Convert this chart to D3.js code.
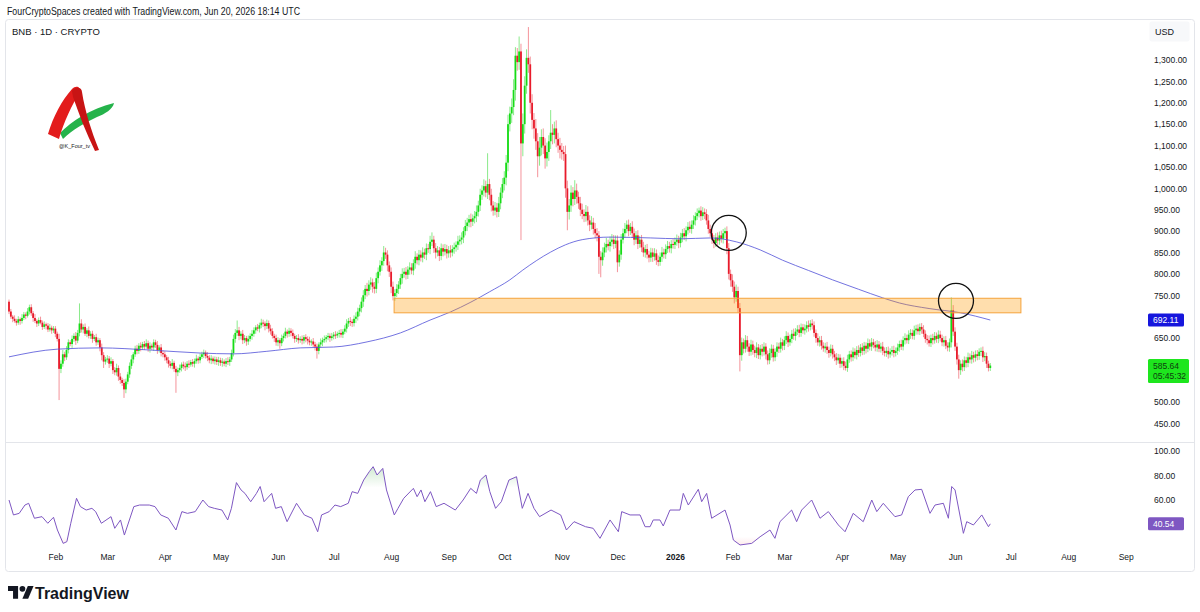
<!DOCTYPE html>
<html>
<head>
<meta charset="utf-8">
<script src="https://cdn.jsdelivr.net/npm/d3@7"></script>
<style>
html, body { margin: 0; padding: 0; background: #ffffff; }
svg { display: block; font-family: "Liberation Sans", Arial, sans-serif; }
</style>
</head>
<body>
<script>
(function(){

//first daily candle and its open
var startDate = new Date(Date.UTC(2025, 0, 7));
var firstOpen = 735;

//daily closes, one line per month (Jan 2025 .. Jun 2026)
var closes = [
  712,700,695,690,686,694,690,697,705,702,712,722,708,697,690,684,692,686,676,682,679,670,674,668,672,
  660,648,578,590,612,605,622,640,636,648,655,644,662,684,670,676,660,668,655,660,648,652,640,645,628,610,595,600,
  602,590,596,575,570,580,560,552,545,530,548,565,585,600,612,625,620,632,628,636,630,638,625,632,628,640,634,622,628,615,612,
  605,598,590,585,592,578,570,575,580,588,584,582,590,588,594,590,596,602,598,606,612,616,608,604,598,602,596,600,594,598,
  592,595,590,596,594,600,615,648,662,668,655,660,645,650,642,648,655,660,668,675,672,680,686,684,678,685,672,666,655,650,640,
  645,638,650,655,665,660,667,662,655,648,650,645,648,644,652,648,644,640,642,635,630,620,635,640,645,648,652,655,650,654,
  658,656,660,662,658,665,672,684,690,688,685,695,700,712,720,735,750,765,760,775,780,770,765,790,805,820,830,850,845,820,805,
  770,748,755,765,775,790,800,805,798,810,815,808,825,840,832,845,838,850,845,860,858,875,880,860,850,855,842,860,852,858,848,
  855,850,858,862,868,876,880,885,900,912,920,928,922,930,935,945,960,985,995,1005,990,1010,985,960,948,955,945,965,990,1010,
  1025,1060,1150,1175,1190,1230,1310,1295,1320,1105,1150,1240,1305,1290,1200,1160,1140,1110,1075,1095,1120,1100,1070,1085,1110,1130,1125,1140,1115,1100,1090,
  1085,1080,1000,945,960,990,975,995,980,965,950,940,935,945,925,915,920,905,895,890,840,832,850,862,870,865,875,880,870,878,
  827,845,880,895,905,915,900,910,895,880,890,870,880,862,850,858,845,838,850,840,848,832,828,840,850,846,858,865,860,870,868,
  875,880,872,885,895,888,902,910,905,915,925,935,942,948,935,944,940,925,905,895,880,872,885,878,890,882,895,900,860,800,785,
  770,745,760,720,610,640,625,645,630,618,635,622,615,628,610,625,618,630,612,598,615,625,605,618,630,625,640,632,
  645,655,640,648,660,655,665,670,662,675,668,672,680,676,684,680,662,650,640,645,632,626,630,622,615,625,612,605,598,604,590,
  596,585,580,600,612,605,618,610,622,615,628,620,632,625,638,630,640,634,628,635,625,630,620,615,620,612,618,622,615,620,
  628,636,630,645,650,645,658,662,655,668,672,666,676,670,660,648,645,638,650,645,655,648,658,650,640,645,632,628,640,715,665,
  630,600,575,590,582,598,592,605,600,610,604,612,608,618,620,605,608,590,580,585.64
];

//upper wick above the body, price units
var upWick = [
  5,6,4,8,5,7,4,9,6,5,8,6,7,5,9,4,6,8,5,7,4,6,9,5,6,
  6,5,12,8,10,6,9,7,5,8,6,9,7,47,10,6,8,5,9,6,7,5,8,6,5,9,7,6,
  8,6,9,5,7,10,6,8,5,9,7,6,8,10,5,7,9,6,8,5,7,9,6,8,5,7,6,9,5,8,6,
  7,5,8,6,9,5,7,6,8,5,7,9,6,8,5,7,6,9,5,8,6,7,5,9,6,8,5,7,6,8,
  6,8,5,7,9,6,8,10,9,23,8,6,9,7,5,8,6,9,7,5,8,6,9,7,5,8,6,9,7,5,8,
  7,5,8,6,9,5,7,6,8,5,7,9,6,8,5,7,6,9,5,8,6,7,5,9,6,8,5,7,6,8,
  6,8,5,7,9,6,8,10,7,9,6,8,10,9,8,10,12,9,14,10,12,9,11,13,10,12,9,15,11,10,9,
  10,12,9,11,8,10,13,9,11,8,12,10,9,13,8,11,10,12,9,11,10,14,17,9,12,10,8,11,9,12,10,
  10,12,9,11,8,13,10,12,9,14,11,10,13,9,12,15,11,14,12,16,13,72,12,14,10,13,11,15,12,14,
  15,18,22,16,20,25,20,18,35,18,25,22,20,72,18,20,16,22,19,25,18,20,17,22,14,53,20,16,19,15,18,
  16,14,20,18,15,17,13,24,16,12,15,14,11,16,13,12,15,11,14,12,10,13,12,11,14,10,12,13,11,12,
  12,10,13,11,14,10,12,9,13,11,10,12,9,11,13,10,12,9,11,10,12,9,11,10,13,9,11,12,10,9,11,
  10,12,9,11,10,12,9,11,13,10,12,9,11,7,10,12,9,11,13,10,9,11,10,12,9,11,10,8,11,12,10,
  14,12,15,10,12,11,9,12,10,8,11,9,10,12,8,9,11,10,8,9,11,10,9,8,10,9,11,8,
  9,11,8,10,9,12,8,10,11,9,8,10,9,11,8,10,9,8,11,9,10,8,9,11,8,10,9,8,10,9,8,
  8,9,10,11,8,9,10,8,9,11,8,10,9,8,11,9,10,8,9,10,8,9,11,8,9,10,8,9,10,8,
  9,8,10,9,11,8,10,9,8,11,9,10,8,9,10,8,9,11,8,10,9,8,10,9,8,9,10,8,9,30,12,
  10,9,11,8,10,9,8,11,9,10,8,9,10,8,8,10,9,8,7,6
];

//lower wick below the body, price units
var dnWick = [
  6,5,8,4,7,5,9,6,5,8,4,7,6,9,5,8,6,4,7,5,9,6,5,8,6,
  8,6,73,10,7,9,6,8,5,9,7,10,6,8,7,9,5,8,6,7,9,5,8,6,9,12,15,7,
  8,10,6,9,7,8,10,9,7,20,9,6,8,7,9,6,8,7,9,6,8,5,7,9,6,8,7,9,6,8,7,
  8,7,9,6,8,7,48,9,6,8,7,9,6,8,5,7,9,6,8,7,5,9,6,8,7,9,6,8,7,9,
  7,9,6,8,7,9,6,8,9,7,10,8,9,7,10,8,6,9,7,8,6,9,7,8,10,7,9,8,6,9,8,
  9,13,7,8,6,9,7,8,6,9,7,8,6,9,7,8,9,7,8,6,9,18,8,7,9,6,8,7,9,6,
  7,8,6,9,7,8,6,9,8,10,9,8,10,9,11,10,12,9,13,10,12,14,11,10,12,9,13,11,10,14,12,
  15,10,11,9,12,10,13,9,11,10,12,9,11,13,10,12,9,11,10,13,9,12,10,11,14,9,12,10,11,9,12,
  10,12,9,11,10,12,9,11,13,10,12,11,13,10,12,14,11,13,12,14,11,15,13,14,12,11,13,12,14,13,
  15,18,20,17,22,19,25,20,18,226,30,22,19,20,25,22,24,20,49,22,18,20,24,19,21,18,22,20,19,17,20,
  18,16,22,43,18,15,17,14,16,13,15,12,14,13,12,15,11,13,12,14,40,40,13,11,12,10,13,11,12,10,
  23,10,12,9,11,10,12,9,11,13,10,12,9,11,10,12,9,11,10,12,9,11,10,9,12,10,11,9,10,12,9,
  10,9,12,10,11,9,12,10,9,11,10,12,9,10,11,9,12,10,11,9,10,12,9,11,10,9,11,12,14,13,15,
  12,14,10,11,38,13,11,9,12,10,9,11,10,12,9,10,11,9,12,10,9,11,10,9,12,10,9,11,
  10,9,11,8,10,9,11,8,10,9,8,10,9,11,8,10,9,11,8,10,9,8,10,9,11,8,10,9,11,8,10,
  9,10,6,9,8,10,9,8,10,9,8,10,9,11,8,9,10,8,9,10,8,9,10,8,9,10,8,9,10,8,
  9,10,8,9,10,8,9,10,8,9,10,8,9,10,8,9,10,8,9,10,8,9,10,8,9,10,8,9,10,12,10,
  10,12,20,11,10,9,11,10,9,10,11,9,10,9,10,11,9,10,8,7
];

//moving average (day index from startDate, value)
var maDay = [0,26,49,76,103,121,139,157,175,193,211,227,238,249,259,270,277,292,300,309,324,346,362,378,392,405,417,431,444,458,471,480,496,513,529];
var maVal = [606,624,627,622,615,613,619,627,629,641,662,692,711,734,758,786,809,851,868,880,886,884,882,884,875,856,832,808,786,764,744,732,719,709,692.11];

//RSI (day index, value)
var rsiDay = [0,2.4,5.5,8.6,10.6,13.7,17.8,20.9,24,26.1,29.2,31.2,33.3,36.4,38.5,41.6,44.7,46.7,49.8,55,57,60.1,62.2,67.3,70.4,75.6,78.7,81.8,85.9,90,93.2,96.2,100.4,104.5,107.6,110.7,114.8,117.9,119.9,122.6,125.1,127.2,130.3,133.4,135.4,137.5,141.6,143.7,146.8,149.9,155,159.2,163.3,166.4,168.5,172.6,175.7,178.8,182.9,185,188,191.2,194.2,196.3,198.4,201.5,203.5,207.7,209.7,212.8,218,220,222.1,224.2,227.2,230.3,234.5,240.6,244.8,248.9,252,254.1,257.1,259.2,262.3,265.4,269.5,273.6,276.7,279.8,283,286,292.2,297.4,300.5,304.6,310.8,314.9,318.6,
  324,328.5,330.3,334.8,340.2,342.9,345.6,347.3,350.9,352.7,356.3,361.7,363.5,366.2,371.6,373.4,376.1,378.8,386,388.7,390.5,394.1,400.4,404.9,410.2,412.9,415.6,421.9,424.6,427.3,432.7,437.2,441.7,447.1,450.7,455.1,460.5,465.1,467.8,471.3,477.6,481.2,484.8,488.4,492,496.5,499.2,503.7,506.4,508.2,510,514.5,516.3,519.9,524.4,528,529];
var rsiVal = [60,47.8,49.1,55.9,57.3,45.1,46.4,41,45.9,35.5,24.6,26,41,61.4,54.6,51.8,53.2,50.5,41,46.4,36.9,43.7,31.4,54.6,55.9,55.9,54.6,47.8,45.1,35.5,50.5,49.1,50.5,60,54.6,53.2,51.8,43.7,53.2,74.2,68.2,65.4,58.6,65.4,71,58.6,65.4,53.2,54.6,42.3,57.3,47.8,45.1,34.1,47.8,50.5,55.9,54.6,57.3,66.8,65.4,76.3,83.1,87.2,80.4,85.8,68.2,47.8,53.2,61.4,69.5,62.7,68.2,58.6,66.8,54.6,57.3,51.8,60,69.5,65.4,76.3,80.4,66.8,53.2,58.6,76.3,79,53.2,65.4,53.2,46.4,51.8,47.8,35.5,42.3,38.2,36.9,28.7,
  43.7,34.1,50.5,47.8,47.8,38.2,38.2,43.7,43.7,38.8,51.8,51.8,65.4,55.9,68.7,58.6,65.4,45.1,51.8,39.6,27.3,23.3,24.6,30,35.5,28.7,42.3,51.8,42.3,51.8,60,45.1,50.5,39.6,34.1,49.1,42.3,60,50.5,57.3,46.4,47.8,62.7,68.2,68.7,49.1,55.9,57.3,45.1,71,68.2,32.8,42.3,39.6,47.8,38.2,40.54];

//axis ticks
var priceTicks = [1300,1250,1200,1150,1100,1050,1000,950,900,850,800,750,700,650,600,550,500,450];
var rsiTicks = [100,80,60,40];

//drawings on the chart: support zone (day index range, price range) and two circles
var zoneDays = [207.6, 545.5];
var zonePrices = [709, 743];
var circleDays = [388, 510.5];
var circlePrices = [896, 737];

//last values shown on the price scale
var lastPrice = 585.64, lastMA = 692.11, lastRSI = 40.54, countdown = "05:45:32";

drawChart();

function drawChart(){

    var width = 1200,
        height = 612;

    var svg = d3.select("body")
        .append("svg")
        .attr("width", width)
        .attr("height", height);

    //time scale shared by both panes
    var endDate = d3.utcDay.offset(startDate, closes.length - 1);
    var x = d3.scaleUtc()
        .domain([startDate, endDate])
        .range([9, 990.3]);
    function xDay(d){ return x(new Date(startDate.getTime() + d * 864e5)); }

    var y = d3.scaleLinear().domain([450, 1300]).range([423.6, 60]);
    var yR = d3.scaleLinear().domain([40, 100]).range([524.5, 451]);

    //header
    svg.append("text")
        .attr("x", 7).attr("y", 15)
        .attr("font-size", 10).attr("fill", "#131722")
        .attr("textLength", 293).attr("lengthAdjust", "spacingAndGlyphs")
        .text("FourCryptoSpaces created with TradingView.com, Jun 20, 2026 18:14 UTC");

    //chart frame and pane separator
    svg.append("rect")
        .attr("x", 5.5).attr("y", 19.5)
        .attr("width", 1189).attr("height", 552)
        .attr("rx", 3)
        .attr("fill", "none").attr("stroke", "#e3e5ea");
    svg.append("line")
        .attr("x1", 6).attr("x2", 1194)
        .attr("y1", 442.5).attr("y2", 442.5)
        .attr("stroke", "#e3e5ea");

    var defs = svg.append("defs");
    defs.append("clipPath").attr("id", "clipPrice")
        .append("rect").attr("x", 6).attr("y", 20).attr("width", 1134).attr("height", 422);
    defs.append("clipPath").attr("id", "clipRsi")
        .append("rect").attr("x", 6).attr("y", 443).attr("width", 1134).attr("height", 106);
    defs.append("clipPath").attr("id", "clipOver")
        .append("rect").attr("x", 6).attr("y", 443).attr("width", 1134).attr("height", yR(70) - 443);
    defs.append("clipPath").attr("id", "clipUnder")
        .append("rect").attr("x", 6).attr("y", yR(30)).attr("width", 1134).attr("height", 549 - yR(30));

    //fading fills for the RSI extremes
    var gOver = defs.append("linearGradient").attr("id", "gradOver")
        .attr("gradientUnits", "userSpaceOnUse")
        .attr("x1", 0).attr("x2", 0).attr("y1", yR(100)).attr("y2", yR(70));
    gOver.append("stop").attr("offset", 0).attr("stop-color", "#4caf50").attr("stop-opacity", 0.45);
    gOver.append("stop").attr("offset", 1).attr("stop-color", "#4caf50").attr("stop-opacity", 0);
    var gUnder = defs.append("linearGradient").attr("id", "gradUnder")
        .attr("gradientUnits", "userSpaceOnUse")
        .attr("x1", 0).attr("x2", 0).attr("y1", yR(30)).attr("y2", yR(0));
    gUnder.append("stop").attr("offset", 0).attr("stop-color", "#f23645").attr("stop-opacity", 0);
    gUnder.append("stop").attr("offset", 1).attr("stop-color", "#f23645").attr("stop-opacity", 0.45);

    //symbol line
    svg.append("text")
        .attr("x", 12).attr("y", 35)
        .attr("font-size", 9.5).attr("fill", "#131722")
        .text("BNB \u00b7 1D \u00b7 CRYPTO");

    drawLogo(svg);

    //candles
    var candles = closes.map(function(c, i){
        var o = i === 0 ? firstOpen : closes[i - 1];
        return {
            i: i,
            o: o,
            c: c,
            h: Math.max(o, c) + upWick[i],
            l: Math.min(o, c) - dnWick[i]
        };
    });

    var price = svg.append("g").attr("clip-path", "url(#clipPrice)");

    price.selectAll(".wick")
        .data(candles)
        .enter()
        .append("line")
        .attr("class", "wick")
        .attr("x1", function(d){ return xDay(d.i); })
        .attr("x2", function(d){ return xDay(d.i); })
        .attr("y1", function(d){ return y(d.h); })
        .attr("y2", function(d){ return y(d.l); })
        .attr("stroke", function(d){ return d.c >= d.o ? "#3ddc3d" : "#ec4a55"; })
        .attr("stroke-width", 0.8)
        .attr("stroke-opacity", 0.75);

    price.selectAll(".body")
        .data(candles)
        .enter()
        .append("rect")
        .attr("class", "body")
        .attr("x", function(d){ return xDay(d.i) - 0.9; })
        .attr("width", 1.8)
        .attr("y", function(d){ return y(Math.max(d.o, d.c)); })
        .attr("height", function(d){ return Math.max(1, Math.abs(y(d.o) - y(d.c))); })
        .attr("fill", function(d){ return d.c >= d.o ? "#16dc16" : "#e81b2b"; });

    //moving average
    var maLine = d3.line()
        .x(function(d, i){ return xDay(maDay[i]); })
        .y(function(d){ return y(d); })
        .curve(d3.curveMonotoneX);
    price.append("path")
        .datum(maVal)
        .attr("d", maLine)
        .attr("fill", "none")
        .attr("stroke", "#5050d8")
        .attr("stroke-opacity", 0.8)
        .attr("stroke-width", 1);

    //support zone
    price.append("rect")
        .attr("x", xDay(zoneDays[0]))
        .attr("width", xDay(zoneDays[1]) - xDay(zoneDays[0]))
        .attr("y", y(zonePrices[1]))
        .attr("height", y(zonePrices[0]) - y(zonePrices[1]))
        .attr("fill", "#ff9800").attr("fill-opacity", 0.32)
        .attr("stroke", "#f5a23a").attr("stroke-width", 1);

    //circles
    price.selectAll(".mark")
        .data(circleDays)
        .enter()
        .append("circle")
        .attr("class", "mark")
        .attr("cx", function(d){ return xDay(d); })
        .attr("cy", function(d, i){ return y(circlePrices[i]); })
        .attr("r", 17.5)
        .attr("fill", "none")
        .attr("stroke", "#111111")
        .attr("stroke-width", 1.3);

    //RSI pane
    var rsi = svg.append("g").attr("clip-path", "url(#clipRsi)");
    var rsiPts = rsiVal.map(function(v, i){ return [xDay(rsiDay[i]), yR(v)]; });

    rsi.append("g").attr("clip-path", "url(#clipOver)")
        .append("path")
        .datum(rsiPts)
        .attr("d", d3.area().x(function(d){ return d[0]; }).y0(yR(70)).y1(function(d){ return d[1]; }))
        .attr("fill", "url(#gradOver)");
    rsi.append("g").attr("clip-path", "url(#clipUnder)")
        .append("path")
        .datum(rsiPts)
        .attr("d", d3.area().x(function(d){ return d[0]; }).y0(yR(30)).y1(function(d){ return d[1]; }))
        .attr("fill", "url(#gradUnder)");

    rsi.append("path")
        .datum(rsiPts)
        .attr("d", d3.line())
        .attr("fill", "none")
        .attr("stroke", "#7e57c2")
        .attr("stroke-width", 1);

    //price scale
    svg.append("rect")
        .attr("x", 1149.5).attr("y", 21.5)
        .attr("width", 40).attr("height", 20)
        .attr("rx", 2)
        .attr("fill", "#f7f8fa");
    svg.append("text")
        .attr("x", 1155).attr("y", 35)
        .attr("font-size", 9).attr("fill", "#131722")
        .text("USD");

    //labels of the last values hide the ticks they cover
    var boxes = [
        {cy: y(lastMA), fill: "#1616dd", lines: [d3.format(".2f")(lastMA)], color: "#ffffff"},
        {cy: y(lastPrice), fill: "#1ee61e", lines: [d3.format(".2f")(lastPrice), countdown], color: "#0e3f0e"},
        {cy: yR(lastRSI), fill: "#7e57c2", lines: [d3.format(".2f")(lastRSI)], color: "#ffffff"}
    ];
    boxes.forEach(function(b){
        b.top = b.cy - 6.5;
        b.bottom = b.top + (b.lines.length > 1 ? 24 : 13);
    });
    function free(ty){
        return boxes.every(function(b){ return ty < b.top - 5 || ty > b.bottom + 5; });
    }

    var yAxis = svg.append("g")
        .attr("transform", "translate(1154,0)")
        .call(d3.axisRight(y).tickValues(priceTicks.filter(function(t){ return free(y(t)); }))
            .tickSize(0).tickPadding(0).tickFormat(d3.format(",.2f")));
    var rAxis = svg.append("g")
        .attr("transform", "translate(1154,0)")
        .call(d3.axisRight(yR).tickValues(rsiTicks.filter(function(t){ return free(yR(t)); }))
            .tickSize(0).tickPadding(0).tickFormat(d3.format(".2f")));
    [yAxis, rAxis].forEach(function(a){
        a.select(".domain").remove();
        a.selectAll("text").attr("font-size", 8.5).attr("fill", "#131722").attr("font-family", null);
    });

    //time scale
    var months = d3.utcMonth.range(new Date(Date.UTC(2025, 1, 1)), new Date(Date.UTC(2026, 9, 1)));
    var xAxis = svg.append("g")
        .attr("transform", "translate(0,554)")
        .call(d3.axisBottom(x).tickValues(months).tickSize(0).tickPadding(0)
            .tickFormat(function(d){ return d.getUTCMonth() === 0 ? d3.utcFormat("%Y")(d) : d3.utcFormat("%b")(d); }));
    xAxis.select(".domain").remove();
    xAxis.selectAll("text")
        .attr("font-size", 8.5).attr("fill", "#131722").attr("font-family", null)
        .attr("font-weight", function(d){ return d.getUTCMonth() === 0 ? "bold" : null; });

    boxes.forEach(function(b){
        svg.append("rect")
            .attr("x", 1148).attr("y", b.top)
            .attr("width", b.lines.length > 1 ? 41 : 36)
            .attr("height", b.bottom - b.top)
            .attr("rx", 1.5)
            .attr("fill", b.fill);
        b.lines.forEach(function(t, k){
            svg.append("text")
                .attr("x", 1153).attr("y", b.cy + 3.2 + k * 10.5)
                .attr("font-size", 8.5).attr("fill", b.color)
                .text(t);
        });
    });

    //TradingView mark and name
    var tv = svg.append("g").attr("transform", "translate(8,583) scale(0.72)");
    tv.append("path").attr("d", "M14 22H7V11H0V4h14v18z").attr("fill", "#131722");
    tv.append("circle").attr("cx", 20).attr("cy", 8).attr("r", 4).attr("fill", "#131722");
    tv.append("path").attr("d", "M28 22h-8l7.5-18h8L28 22z").attr("fill", "#131722");
    svg.append("text")
        .attr("x", 35).attr("y", 599)
        .attr("font-size", 16).attr("font-weight", "bold").attr("fill", "#131722")
        .text("TradingView");
}

//small author logo in the top left corner
function drawLogo(svg){
    var g = svg.append("g");
    //green swoosh
    g.append("path")
        .attr("d", "M60,133 C72,121 90,109 114,103 C113,109 105,114 97,117 C85,123 73,129 63,139 Z")
        .attr("fill", "#25b34b");
    //left leg of the A
    g.append("path")
        .attr("d", "M48,134 C53,117 62,100 72,89 C76,85 81,87 80,92 C72,105 64,121 59,139 Z")
        .attr("fill", "#e31c1c");
    //right leg of the A
    g.append("path")
        .attr("d", "M72,91 C75,86 82,87 82,92 C85,111 91,130 99,150 L95,151 C86,133 79,114 73,97 Z")
        .attr("fill", "#c81414");
    g.append("text")
        .attr("x", 59).attr("y", 148)
        .attr("font-size", 5.5).attr("fill", "#222222")
        .text("@K_Four_tv");
}

})();
</script>
</body>
</html>
